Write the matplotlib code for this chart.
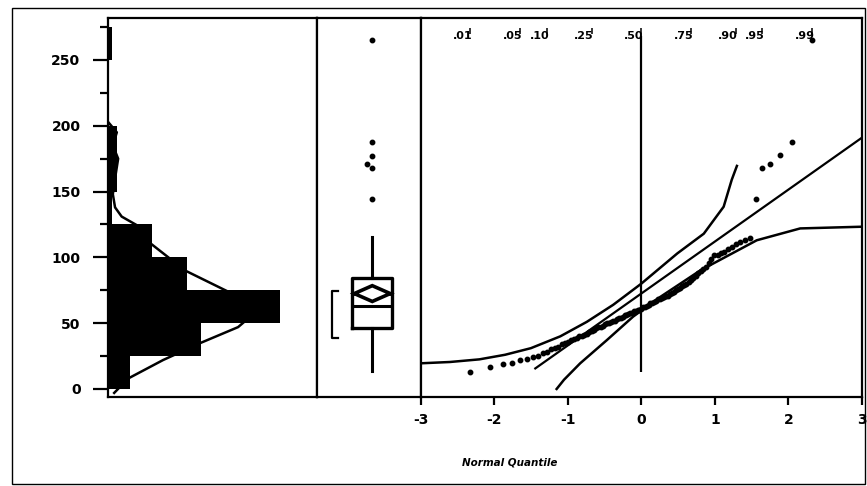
import matplotlib
matplotlib.use("Agg")
import matplotlib.pyplot as plt
from matplotlib.patches import Rectangle, Polygon
from statistics import NormalDist

plt.rcParams['font.family'] = ['DejaVu Sans']
plt.rcParams['axes.unicode_minus'] = False

# ---------------- data ----------------
bin_edges = [0, 25, 50, 75, 100, 125, 150, 175, 200, 225, 250, 275]
bin_counts = [5, 21, 39, 18, 10, 1, 2, 2, 0, 0, 1]

density_values = [-3, 8, 22, 35, 47, 57, 67, 76, 90, 111, 123, 131, 138, 148, 160, 175, 185, 195, 203]
density_counts = [1.4, 4.6, 12.5, 21.0, 29.5, 33.0, 31.5, 26.0, 17.5, 9.5, 7.3, 3.1, 1.6, 1.1, 1.6, 2.3, 1.1, 2.0, 0.0]

values = [13, 17, 19, 20, 22, 23, 24, 25, 27, 28,
          30, 31, 32, 34, 35, 36, 37, 38, 39, 40,
          40, 41, 42, 43, 44, 45, 46, 47, 47, 48,
          49, 50, 50, 51, 52, 52, 53, 54, 54, 55,
          56, 56, 57, 58, 58, 59, 59, 60, 60, 61,
          62, 62, 63, 64, 65, 65, 66, 67, 68, 68,
          69, 70, 71, 71, 72, 73, 74, 75, 76, 77,
          78, 79, 80, 81, 83, 84, 86, 88, 90, 91,
          93, 96, 99, 102, 102, 103, 104, 106, 108, 110,
          112, 113, 115, 144, 168, 171, 178, 188, 265]

box_q1, box_median, box_q3 = 46, 63, 84.5
whisker_low, whisker_high = 14, 115.5
outliers = [144, 168, 171, 177, 188, 265]
mean_value, mean_ci = 72.5, (66.5, 78.5)
shortest_half = (38.7, 74.7)

fit_mean, fit_sd = 72.5, 39.5
fit_q_range = (-1.44, 3.0)

upper_band_q = [-3.0, -2.6, -2.2, -1.85, -1.5, -1.1, -0.74, -0.38, 0.0, 0.49, 0.85, 1.12, 1.23, 1.30]
upper_band_v = [19.5, 20.5, 22.5, 26, 31, 40, 51, 64, 80, 103, 118, 138.5, 159, 169.5]
lower_band_q = [-1.15, -1.05, -0.83, -0.47, -0.11, 0.26, 0.8, 1.57, 2.16, 3.0]
lower_band_v = [0, 7, 19.5, 37, 55, 70, 90, 113, 122, 123.3]

prob_labels = ['.01', '.05', '.10', '.25', '.50', '.75', '.90', '.95', '.99']
probs = [0.01, 0.05, 0.10, 0.25, 0.50, 0.75, 0.90, 0.95, 0.99]

y_major = [0, 50, 100, 150, 200, 250]
y_minor = [25, 75, 125, 175, 225, 275]
x_ticks = [-3, -2, -1, 0, 1, 2, 3]
x_ticklabels = ['-3', '-2', '-1', '0', '1', '2', '3']

# ---------------- layout ----------------
W, H = 867, 486
fig = plt.figure(figsize=(W / 100, H / 100), dpi=100)

def rect(x0, y0, x1, y1):
    return [x0 / W, 1 - y1 / H, (x1 - x0) / W, (y1 - y0) / H]

YLIM = (-6.1, 281.9)
LW = 1.6
BOLD = dict(fontweight='bold')

fig.patches.append(Rectangle((12 / W, 1 - 484 / H), (865 - 12) / W, (484 - 8) / H,
                             transform=fig.transFigure, fill=False, lw=1.0, color='black'))

ax_h = fig.add_axes(rect(108, 18, 317, 397))
ax_b = fig.add_axes(rect(317, 18, 420.5, 397))
ax_q = fig.add_axes(rect(420.5, 18, 862, 397))

for ax in (ax_h, ax_b, ax_q):
    ax.set_ylim(*YLIM)
    for s in ax.spines.values():
        s.set_linewidth(LW)

# ---- histogram ----
ax_h.barh(bin_edges[:-1], bin_counts, height=25, align='edge', color='black', lw=0)
ax_h.plot(density_counts, density_values, color='black', lw=1.8)
ax_h.set_xlim(0, 47.4)
ax_h.set_xticks([])
ax_h.set_yticks(y_major)
ax_h.set_yticklabels([str(v) for v in y_major], fontsize=10, **BOLD)
ax_h.set_yticks(y_minor, minor=True)
ax_h.tick_params(axis='y', which='major', length=10.8, width=1.6, pad=9)
ax_h.tick_params(axis='y', which='minor', length=5.8, width=1.6)

# ---- box plot ----
ax_b.set_xlim(0, 1)
ax_b.set_xticks([])
ax_b.set_yticks([])
cx, bw = 0.534, 0.386
stats = [dict(med=box_median, q1=box_q1, q3=box_q3, whislo=whisker_low,
              whishi=whisker_high, fliers=[])]
ax_b.bxp(stats, positions=[cx], widths=[bw], showcaps=False, manage_ticks=False,
         boxprops=dict(lw=2.4, color='black'), whiskerprops=dict(lw=2.2, color='black'),
         medianprops=dict(lw=2.2, color='black'))
hw = bw / 2 * 0.9
ax_b.add_patch(Polygon([(cx - hw, mean_value), (cx, mean_ci[1]), (cx + hw, mean_value),
                        (cx, mean_ci[0])], closed=True, fill=False, lw=2.6, color='black'))
ax_b.plot([cx - bw / 2, cx - hw], [mean_value, mean_value], color='black', lw=2.0)
ax_b.plot([cx + hw, cx + bw / 2], [mean_value, mean_value], color='black', lw=2.0)
bx0, bx1 = 0.145, 0.2
ax_b.plot([bx1, bx0, bx0, bx1], [shortest_half[0], shortest_half[0], shortest_half[1], shortest_half[1]],
          color='black', lw=1.6)
flier_x = [cx, cx, cx - 0.055, cx, cx, cx]
ax_b.plot(flier_x, outliers, 'o', color='black', ms=3.2, ls='none')

# ---- normal quantile plot ----
nd = NormalDist()
n = len(values)
qs = [nd.inv_cdf(i / (n + 1)) for i in range(1, n + 1)]
ax_q.set_xlim(-3, 3)
ax_q.set_yticks([])
ax_q.set_xticks(x_ticks)
ax_q.set_xticklabels(x_ticklabels, fontsize=10, **BOLD)
ax_q.tick_params(axis='x', length=5.8, width=1.6, pad=6)

ax_q.vlines(0, min(values), max(values) + 3, color='black', lw=1.6)
ax_q.plot(fit_q_range, [fit_mean + fit_sd * q for q in fit_q_range], color='black', lw=1.6)
ax_q.plot(upper_band_q, upper_band_v, color='black', lw=1.8)
ax_q.plot(lower_band_q, lower_band_v, color='black', lw=1.8)
ax_q.plot(qs, values, 'o', color='black', ms=3.2, ls='none')

for lab, p in zip(prob_labels, probs):
    xq = nd.inv_cdf(p)
    ax_q.text(xq + 0.03, 268.6, lab, ha='right', va='center', fontsize=8, **BOLD)
    ax_q.vlines(xq, 270, 274.5, color='black', lw=1.1)

fig.text(510 / W, 1 - 462 / H, 'Normal Quantile', ha='center', va='center',
         fontsize=7.5, fontweight='bold', style='italic')

fig.savefig('out.png', dpi=100)
